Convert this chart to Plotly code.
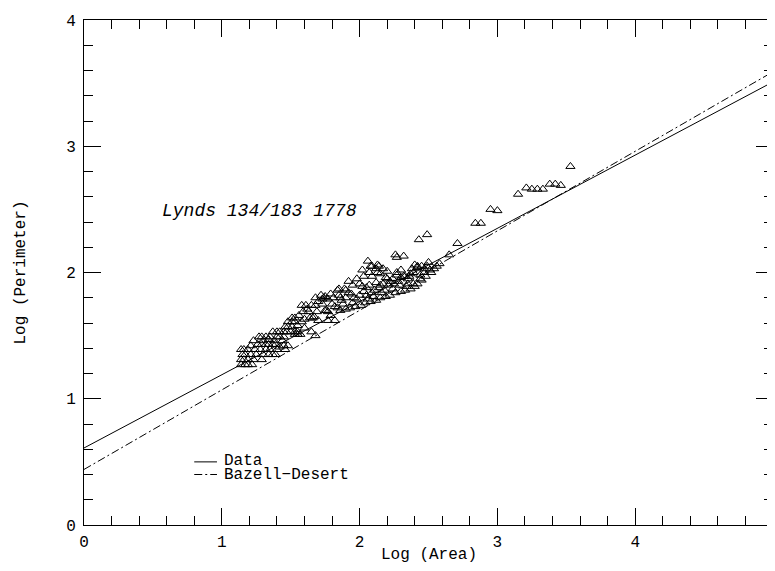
import plotly.graph_objects as go

# ---- data ----
area_log = [
    1.14, 1.17, 1.19, 1.22,
    1.14, 1.16, 1.19, 1.23, 1.29,
    1.15, 1.17, 1.21, 1.25, 1.30, 1.34, 1.37, 1.39,
    1.14, 1.16, 1.19, 1.24, 1.28, 1.32, 1.35, 1.40,
    1.29, 1.32, 1.34, 1.37, 1.39,
    1.23, 1.30,
    1.27, 1.29, 1.32, 1.35, 1.40, 1.42, 1.45,
    1.37, 1.40, 1.42, 1.45, 1.47, 1.50, 1.53, 1.55,
    1.53, 1.55, 1.57,
    1.46, 1.48, 1.51,
    1.48, 1.51, 1.53, 1.58,
    1.51, 1.53, 1.64, 1.66,
    1.59, 1.63, 1.69,
    1.58, 1.61, 1.65, 1.68,
    1.42, 1.45, 1.48, 1.46,
    1.65, 1.68, 1.60,
    1.73, 1.76, 1.79, 1.82, 1.72, 1.74, 1.79, 1.81, 1.67, 1.70, 1.77,
    2.26, 2.27, 2.32,
    2.13, 2.12, 2.13,
    2.03, 1.92,
    2.42, 2.45, 2.47,
    2.27, 2.30, 2.33, 2.35, 2.37,
    2.20, 2.22, 2.25,
    2.12, 2.15, 2.17,
    2.00, 2.02, 2.05, 2.07,
    1.89, 1.92, 1.94,
    1.84, 1.85, 1.86,
    1.75, 1.77, 1.73,
    1.80, 1.82, 1.84,
    1.75, 1.77,
    1.86, 1.90, 1.93, 1.97, 2.01, 2.04, 2.08, 2.12, 2.15, 2.19, 2.22, 2.26,
    2.30, 2.33, 2.37, 2.40,
    1.95, 1.98, 2.05, 2.09, 2.18, 2.24, 2.10, 1.88, 1.96, 2.03, 2.14, 2.29,
    2.35, 2.39, 2.42, 2.44, 2.47,
    2.14, 2.15, 2.19, 2.24, 2.27, 2.30, 2.32, 2.36, 2.39,
    2.02, 2.07, 2.09, 1.85, 1.90,
    2.42, 2.49, 2.51, 2.54, 2.58, 2.65, 2.71, 2.43, 2.49,
    2.84, 2.88, 2.95, 3.00, 3.15, 3.21, 3.25, 3.29, 3.33,
    3.38, 3.42, 3.46, 3.53, 2.44,
    2.38, 2.40, 2.50, 2.52, 2.56, 2.20, 2.17, 2.08, 1.98, 1.95,
    1.90, 1.87, 2.00, 2.06, 2.11, 2.16, 2.21, 2.28, 2.34, 2.45,
    2.48, 1.70, 1.68, 1.62, 1.56, 1.55, 1.60, 1.44, 1.38, 1.34,
    1.26, 1.21, 2.06, 2.09,
]
perimeter_log = [
    1.27, 1.27, 1.27, 1.27,
    1.31, 1.31, 1.31, 1.31, 1.31,
    1.35, 1.35, 1.35, 1.35, 1.35, 1.35, 1.35, 1.35,
    1.39, 1.39, 1.39, 1.39, 1.39, 1.39, 1.39, 1.39,
    1.43, 1.43, 1.43, 1.43, 1.43,
    1.46, 1.46,
    1.49, 1.49, 1.49, 1.49, 1.49, 1.49, 1.49,
    1.53, 1.53, 1.53, 1.53, 1.53, 1.53, 1.53, 1.53,
    1.51, 1.51, 1.51,
    1.57, 1.57, 1.57,
    1.61, 1.61, 1.61, 1.61,
    1.64, 1.64, 1.64, 1.64,
    1.69, 1.69, 1.69,
    1.74, 1.74, 1.74, 1.74,
    1.41, 1.42, 1.42, 1.39,
    1.53, 1.50, 1.56,
    1.75, 1.70, 1.66, 1.62, 1.82, 1.80, 1.83, 1.80, 1.65, 1.62, 1.62,
    2.14, 2.12, 2.13,
    2.06, 2.03, 2.00,
    1.97, 1.93,
    2.04, 2.05, 2.03,
    1.98, 1.96, 1.97, 1.95, 1.99,
    1.95, 1.93, 1.91,
    1.92, 1.90, 1.91,
    1.91, 1.89, 1.88, 1.90,
    1.87, 1.84, 1.83,
    1.86, 1.82, 1.80,
    1.81, 1.79, 1.79,
    1.75, 1.73, 1.72,
    1.70, 1.69,
    1.70, 1.71, 1.72, 1.73, 1.74, 1.76, 1.77, 1.78, 1.80, 1.81, 1.82, 1.84,
    1.85, 1.86, 1.87, 1.89,
    1.76, 1.79, 1.82, 1.84, 1.86, 1.87, 1.81, 1.75, 1.80, 1.85, 1.88, 1.90,
    1.91, 1.91, 1.91, 1.98, 2.00,
    2.05, 1.99, 1.96, 1.95, 2.00, 2.02, 1.97, 1.97, 2.00,
    2.02, 2.00, 1.97, 1.87, 1.86,
    2.05, 2.05, 2.02, 2.03, 2.07, 2.14, 2.23, 2.26, 2.30,
    2.39, 2.39, 2.50, 2.49, 2.62, 2.67, 2.66, 2.66, 2.66,
    2.70, 2.70, 2.69, 2.84, 1.95,
    2.03, 2.06, 2.08, 2.00, 2.05, 2.01, 2.03, 2.05, 1.95, 1.90,
    1.80, 1.78, 1.82, 1.79, 1.86, 1.84, 1.90, 1.93, 1.89, 1.94,
    1.97, 1.77, 1.80, 1.71, 1.66, 1.58, 1.63, 1.46, 1.46, 1.47,
    1.43, 1.42, 2.09, 2.05,
]

fit_x = [0.0, 5.0]
data_fit_y = [0.61, 3.51]
bazell_desert_y = [0.44, 3.59]

x_ticks = [0, 1, 2, 3, 4, 5]
y_ticks = [0, 1, 2, 3, 4]

FONT = "Liberation Mono, Courier New, monospace"
DASHDOT = "8px,3px,2px,3px"

fig = go.Figure()
fig.add_trace(go.Scatter(x=fit_x, y=data_fit_y, mode="lines",
                         line=dict(color="black", width=1), showlegend=False))
fig.add_trace(go.Scatter(x=fit_x, y=bazell_desert_y, mode="lines",
                         line=dict(color="black", width=1, dash=DASHDOT),
                         showlegend=False))
fig.add_trace(go.Scatter(x=area_log, y=perimeter_log, mode="markers",
                         marker=dict(symbol="triangle-up-open", size=8,
                                     color="black", line=dict(width=1, color="black")),
                         showlegend=False))

axis_common = dict(
    showgrid=False, zeroline=False, showline=True, linecolor="black", linewidth=1,
    mirror="ticks", ticks="inside", ticklen=17, tickwidth=1, tickcolor="black",
    tickfont=dict(family=FONT, size=16, color="black"),
    ticklabeloverflow="allow",
    minor=dict(ticks="inside", ticklen=9, tickwidth=1, tickcolor="black", dtick=0.2),
)

fig.update_layout(
    width=775, height=571,
    margin=dict(l=76, r=5, t=7, b=54),
    paper_bgcolor="white", plot_bgcolor="white",
    font=dict(family=FONT, size=16, color="black"),
    xaxis=dict(range=[0, 5], tickvals=x_ticks, ticklabelstandoff=2, **axis_common),
    yaxis=dict(range=[0, 4], tickvals=y_ticks, ticklabelstandoff=4,
               title=dict(text="Log (Perimeter)", font=dict(family=FONT, size=16), standoff=36),
               **axis_common),
    annotations=[
        dict(x=0.5, y=0, xref="paper", yref="paper", text="Log (Area)",
             showarrow=False, font=dict(family=FONT, size=16, color="black"),
             xanchor="center", yanchor="middle", yshift=-30),
        dict(x=1.27, y=2.49, xref="x", yref="y", text="<i>Lynds 134/183 1778</i>",
             showarrow=False, font=dict(family=FONT, size=18, color="black"),
             xanchor="center", yanchor="middle"),
        dict(x=1.0, y=0.505, xref="x", yref="y", text="Data", showarrow=False,
             font=dict(family=FONT, size=16, color="black"), xanchor="left", yanchor="middle"),
        dict(x=1.0, y=0.40, xref="x", yref="y", text="Bazell\u2212Desert", showarrow=False,
             font=dict(family=FONT, size=16, color="black"), xanchor="left", yanchor="middle"),
    ],
    shapes=[
        dict(type="line", xref="x", yref="y", x0=0.80, x1=0.965, y0=0.50, y1=0.50,
             line=dict(color="black", width=1)),
        dict(type="line", xref="x", yref="y", x0=0.80, x1=0.965, y0=0.40, y1=0.40,
             line=dict(color="black", width=1, dash=DASHDOT)),
    ],
)

fig.write_html("out.html")
